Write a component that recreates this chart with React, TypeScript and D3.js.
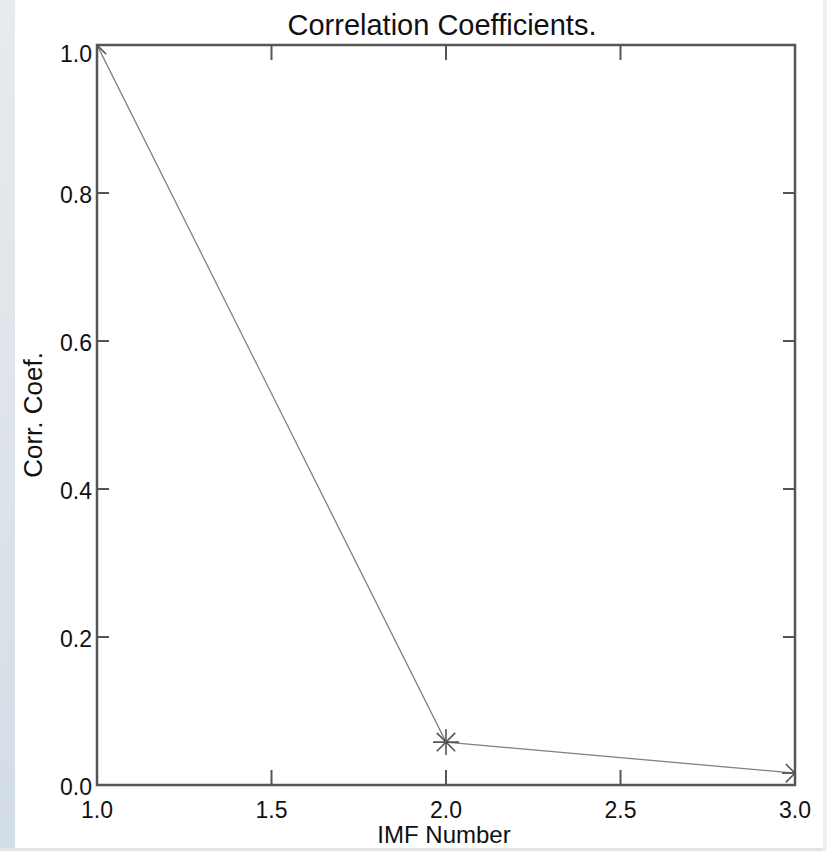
import React from "react";
import * as d3 from "d3";

const imfNumbers = [1, 2, 3];
const corrValues = [1.0, 0.058, 0.016];
const xTicks = [1.0, 1.5, 2.0, 2.5, 3.0];
const yTicks = [0.0, 0.2, 0.4, 0.6, 0.8, 1.0];
const titleText = "Correlation Coefficients.";
const xLabel = "IMF Number";
const yLabel = "Corr. Coef.";

const W = 827;
const H = 851;
const M = { left: 97, right: 795, top: 45, bottom: 785 };
const FONT = "'Liberation Sans', Arial, Helvetica, sans-serif";

export default function App() {
  const x = d3.scaleLinear().domain([1, 3]).range([M.left, M.right]);
  const y = d3.scaleLinear().domain([0, 1]).range([M.bottom, M.top]);
  const pts = imfNumbers.map((d, i) => [x(d), y(corrValues[i])] as [number, number]);
  const line = d3.line()(pts) || "";
  const r = 13;
  const d45 = r * Math.SQRT1_2;
  const asterisk = (cx: number, cy: number) =>
    `M${cx - r},${cy}L${cx + r},${cy}M${cx},${cy - r}L${cx},${cy + r}` +
    `M${cx - d45},${cy - d45}L${cx + d45},${cy + d45}M${cx - d45},${cy + d45}L${cx + d45},${cy - d45}`;
  const grey = "#555";
  return (
    <svg
      width={W}
      height={H}
      style={{ position: "absolute", left: 0, top: 0, background: "#fff" }}
      fontFamily={FONT}
    >
      <defs>
        <linearGradient id="strip" x1="0" y1="0" x2="0" y2="1">
          <stop offset="0" stopColor="#e8ebed" />
          <stop offset="1" stopColor="#d3dde6" />
        </linearGradient>
        <clipPath id="plotClip">
          <rect x={M.left} y={M.top} width={M.right - M.left} height={M.bottom - M.top} />
        </clipPath>
      </defs>
      <rect x={0} y={0} width={15} height={H} fill="url(#strip)" />
      <rect x={0} y={848} width={W} height={3} fill="#dfe4e8" />
      <rect x={823} y={0} width={4} height={H} fill="#f0f0f0" />

      <text x={442} y={35} textAnchor="middle" fontSize={29} fill="#111">
        {titleText}
      </text>

      {/* data */}
      <g clipPath="url(#plotClip)">
        <path d={line} fill="none" stroke="#808080" strokeWidth={1.3} />
        {pts.map((p, i) => (
          <path key={i} d={asterisk(p[0], p[1])} stroke="#555" strokeWidth={1.6} fill="none" />
        ))}
      </g>

      {/* ticks */}
      {yTicks.map((t) => (
        <g key={"y" + t}>
          <line x1={M.left} x2={M.left + 12} y1={y(t)} y2={y(t)} stroke={grey} strokeWidth={2} />
          <line x1={M.right - 12} x2={M.right} y1={y(t)} y2={y(t)} stroke={grey} strokeWidth={2} />
          <text
            x={M.left - 5}
            y={Math.max(y(t) + 2, M.top + 9)}
            textAnchor="end"
            dominantBaseline="central"
            fontSize={23}
            fill="#111"
          >
            {t.toFixed(1)}
          </text>
        </g>
      ))}
      {xTicks.map((t) => (
        <g key={"x" + t}>
          <line x1={x(t)} x2={x(t)} y1={M.bottom} y2={M.bottom - 15} stroke={grey} strokeWidth={2} />
          <line x1={x(t)} x2={x(t)} y1={M.top} y2={M.top + 15} stroke={grey} strokeWidth={2} />
          <text x={x(t)} y={818} textAnchor="middle" fontSize={23} fill="#111">
            {t.toFixed(1)}
          </text>
        </g>
      ))}

      <rect
        x={M.left}
        y={M.top}
        width={M.right - M.left}
        height={M.bottom - M.top}
        fill="none"
        stroke={grey}
        strokeWidth={2.5}
      />

      <text x={444} y={843} textAnchor="middle" fontSize={24} fill="#111">
        {xLabel}
      </text>
      <text
        transform={`translate(42,${(M.top + M.bottom) / 2}) rotate(-90)`}
        textAnchor="middle"
        fontSize={26}
        fill="#111"
      >
        {yLabel}
      </text>
    </svg>
  );
}
